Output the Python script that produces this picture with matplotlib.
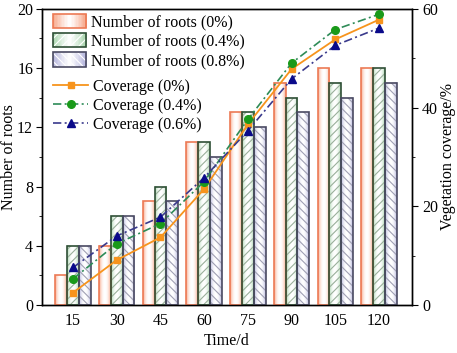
"""Root number and vegetation coverage over time."""

import matplotlib
matplotlib.use("Agg")
import matplotlib.pyplot as plt
import numpy as np
from matplotlib.colors import to_rgb
from matplotlib.legend_handler import HandlerBase
from matplotlib.patches import Patch, Rectangle

days = ["15", "30", "45", "60", "75", "90", "105", "120"]

roots_0 = [2, 4, 7, 11, 13, 15, 16, 16]
roots_04 = [4, 6, 8, 11, 13, 14, 15, 16]
roots_08 = [4, 6, 7, 10, 12, 13, 14, 15]

cover_0 = [2.5, 9.1, 13.7, 23.5, 36.6, 47.8, 53.8, 57.8]
cover_04 = [5.3, 12.4, 16.5, 25.0, 37.6, 49.0, 55.8, 58.9]
cover_06 = [7.6, 14.0, 17.8, 25.8, 35.3, 45.8, 52.6, 56.1]

bar_labels = ["Number of roots (0%)", "Number of roots (0.4%)",
              "Number of roots (0.8%)"]
line_labels = ["Coverage (0%)", "Coverage (0.4%)", "Coverage (0.6%)"]

# fill colour, edge colour, hatch, hatch colour
BAR_STYLES = [
    ("#f7a88a", "#ec7a55", "", None),
    ("#a9d6ae", "#2f4f36", "////", "#9ab09b"),
    ("#b4b4dc", "#4a4a62", "\\\\\\\\", "#a0a0b4"),
]

plt.rcParams["font.family"] = ["Liberation Serif", "DejaVu Serif"]
plt.rcParams["hatch.linewidth"] = 0.8


def gradient_colors(color, n, power):
    """Colours going from color at the sides to white in the middle."""
    rgb = np.array(to_rgb(color))
    t = np.linspace(0, 1, n)
    w = 1 - np.abs(2 * t - 1) ** power
    return [tuple(rgb + (1 - rgb) * wi) for wi in w]


class GradientHandler(HandlerBase):
    """Legend handle drawn as a gradient box with optional hatch."""

    def __init__(self, style):
        super().__init__()
        self.style = style

    def create_artists(self, legend, orig_handle, xdescent, ydescent,
                       width, height, fontsize, trans):
        fill, edge, hatch, hcol = self.style
        n = 24
        x0, y0 = -xdescent, -ydescent
        arts = []
        for i, c in enumerate(gradient_colors(fill, n, 1.2)):
            arts.append(Rectangle((x0 + i * width / n, y0), width / n + 0.3,
                                  height, facecolor=c, edgecolor="none",
                                  transform=trans))
        if hatch:
            arts.append(Rectangle((x0, y0), width, height, facecolor="none",
                                  edgecolor="#ffffff", hatch=hatch, lw=0,
                                  transform=trans))
        arts.append(Rectangle((x0, y0), width, height, facecolor="none",
                              edgecolor=edge, lw=1.2, transform=trans))
        return arts


fig = plt.figure(figsize=(4.57, 3.53), dpi=100)
ax = fig.add_axes([0.092, 0.136, 0.809, 0.839])
ax2 = ax.twinx()

x = np.arange(len(days))
width = 0.27
offsets = [-width, 0, width]
for vals, off, style in zip([roots_0, roots_04, roots_08], offsets,
                            BAR_STYLES):
    fill, edge, hatch, hcol = style
    bars = ax.bar(x + off, vals, width, facecolor="none", edgecolor="none",
                  zorder=2)
    grad = np.array([gradient_colors(fill, 40, 2.2)])
    for rect in bars:
        bx, bw, bh = rect.get_x(), rect.get_width(), rect.get_height()
        ax.imshow(grad, extent=[bx, bx + bw, 0, bh], aspect="auto",
                  zorder=1, interpolation="bilinear")
    if hatch:
        ax.bar(x + off, vals, width, facecolor="none", edgecolor=hcol,
               hatch=hatch, lw=0, zorder=2)
    ax.bar(x + off, vals, width, facecolor="none", edgecolor=edge, lw=1.2,
           zorder=3)

l0, = ax2.plot(x, cover_0, color="#f7941d", lw=1.3, marker="s", ms=5,
               zorder=5)
l1, = ax2.plot(x, cover_04, color="#2e8b57", lw=1.2, marker="o", ms=5.5,
               mfc="#1a9a1a", mec="#1a9a1a", dashes=[5, 2, 1.2, 2], zorder=5)
l2, = ax2.plot(x, cover_06, color="#3a3a8c", lw=1.2, marker="^", ms=5.5,
               mfc="#0a0a8a", mec="#0a0a8a", dashes=[5, 2, 1.2, 2], zorder=5)

ax.set_xlim(-0.71, 7.75)
ax.set_ylim(0, 20)
ax2.set_ylim(0, 60)
ax.set_xticks(x)
ax.set_xticklabels(days)
ax.tick_params(axis="x", length=0, labelsize=11.5, pad=6)
ax.set_yticks([0, 4, 8, 12, 16, 20])
ax.set_yticks([2, 6, 10, 14, 18], minor=True)
ax.tick_params(axis="y", which="major", length=4, labelsize=11.5, pad=2.5)
ax.tick_params(axis="y", which="minor", length=2.5)
ax2.set_yticks([0, 20, 40, 60])
ax2.set_yticks([10, 30, 50], minor=True)
ax2.tick_params(axis="y", which="major", length=4, labelsize=11.5)
ax2.tick_params(axis="y", which="minor", length=2.5)

ax.set_xlabel("Time/d", fontsize=11.5)
ax.set_ylabel("Number of roots", fontsize=11.5)
ax2.set_ylabel("Vegetation coverage/%", fontsize=11.5)
ax.xaxis.set_label_coords(0.5, -0.095)
ax.yaxis.set_label_coords(-0.068, 0.5)
ax2.yaxis.set_label_coords(1.077, 0.5)

for a in (ax, ax2):
    for s in a.spines.values():
        s.set_linewidth(1.0)

bar_handles = [Patch() for _ in bar_labels]
hmap = {h: GradientHandler(st) for h, st in zip(bar_handles, BAR_STYLES)}
leg1 = ax2.legend(bar_handles, bar_labels, handler_map=hmap,
                  loc="upper left", bbox_to_anchor=(0.02, 0.995),
                  frameon=False, fontsize=11.5, handlelength=2.1,
                  handleheight=1.0, handletextpad=0.3, labelspacing=0.18,
                  borderpad=0.2, borderaxespad=0.0)
ax2.add_artist(leg1)
ax2.legend([l0, l1, l2], line_labels, loc="upper left",
           bbox_to_anchor=(0.022, 0.775), frameon=False, fontsize=11.5,
           handlelength=2.15, handletextpad=0.3, labelspacing=0.2,
           borderpad=0.2, borderaxespad=0.0)

fig.savefig("out.png", dpi=100)
